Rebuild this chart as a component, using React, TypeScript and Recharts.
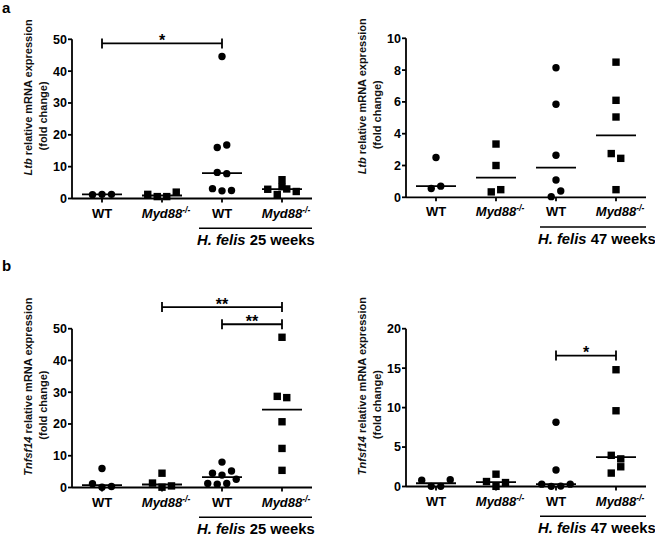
import React from 'react'
import { ScatterChart, Scatter, XAxis, YAxis, ReferenceLine } from 'recharts'

const categories = ['WT', 'Myd88', 'WT', 'Myd88']

// Ltb, H. felis 25 weeks (uninfected WT, uninfected Myd88-/-, infected WT, infected Myd88-/-)
const ltb25WT = [1.2, 1.3, 1.3]
const ltb25Myd = [1.3, 0.6, 0.6, 2.0]
const ltb25HfWT = [44.6, 16.0, 16.8, 8.2, 7.8, 3.1, 2.4, 2.5]
const ltb25HfMyd = [5.9, 3.7, 2.9, 1.25, 3.0, 2.2]

// Ltb, H. felis 47 weeks
const ltb47WT = [2.5, 0.55, 0.7]
const ltb47Myd = [3.35, 2.0, 0.34, 0.48]
const ltb47HfWT = [8.15, 5.85, 2.64, 1.09, 0.04, 0.4]
const ltb47HfMyd = [8.5, 6.1, 5.05, 2.75, 2.45, 0.48]

// Tnfsf14, H. felis 25 weeks
const tnf25WT = [6.0, 1.2, 0.1, 0.3]
const tnf25Myd = [4.5, 1.4, 0.1, 0.5]
const tnf25HfWT = [8.0, 4.5, 3.9, 5.2, 1.25, 1.05, 1.25, 2.6]
const tnf25HfMyd = [47.3, 28.7, 28.3, 20.7, 12.3, 5.4]

// Tnfsf14, H. felis 47 weeks
const tnf47WT = [0.8, 0.02, 0.02, 0.85]
const tnf47Myd = [0.63, 1.56, 0.02, 0.5]
const tnf47HfWT = [8.15, 2.1, 0.3, 0.02, 0.05, 0.3]
const tnf47HfMyd = [14.8, 9.6, 3.95, 3.5, 1.7, 2.5]

const ticks50 = [0, 10, 20, 30, 40, 50]
const ticks10 = [0, 2, 4, 6, 8, 10]
const ticks20 = [0, 5, 10, 15, 20]

const FONT = '"Liberation Sans", Arial, Helvetica, sans-serif'
const BAND = 60 // px per category
const STEP = 9.5 // horizontal spacing of overlapping dots
const CLUSTER_PX = 6.8
const Y_AXIS_W = 60
const X_AXIS_H = 30
const axisStyle = { stroke: '#000', strokeWidth: 1.8 }

// prism-style column scatter: points that sit close together get spread side by side
function spreadOffsets(values: number[], pxPerUnit: number): number[] {
  const order = values.map((_, i) => i).sort((a, b) => values[a] - values[b])
  const offsets = new Array(values.length).fill(0)
  let cluster: number[] = []
  const flush = () => {
    const members = [...cluster].sort((a, b) => a - b)
    members.forEach((idx, k) => {
      offsets[idx] = (k - (members.length - 1) / 2) * STEP
    })
  }
  order.forEach((idx) => {
    if (cluster.length && (values[idx] - values[cluster[0]]) * pxPerUnit > CLUSTER_PX) {
      flush()
      cluster = []
    }
    cluster.push(idx)
  })
  if (cluster.length) flush()
  return offsets
}

function median(values: number[]) {
  const s = [...values].sort((a, b) => a - b)
  const m = Math.floor(s.length / 2)
  return s.length % 2 ? s[m] : (s[m - 1] + s[m]) / 2
}

const Dot = ({ cx, cy }: any) => <circle cx={cx} cy={cy} r={3.7} fill="#000" />
const Square = ({ cx, cy }: any) => <rect x={cx - 3.7} y={cy - 3.7} width={7.4} height={7.4} fill="#000" />
const MedianBar = ({ cx, cy }: any) => (
  <line x1={cx - 20} x2={cx + 20} y1={cy} y2={cy} stroke="#000" strokeWidth={1.8} />
)

const SigBar = ({ x1, y1, x2, text }: any) => (
  <g>
    <line x1={x1} x2={x2} y1={y1} y2={y1} stroke="#000" strokeWidth={1.8} />
    <line x1={x1} x2={x1} y1={y1 - 5} y2={y1 + 5} stroke="#000" strokeWidth={1.8} />
    <line x1={x2} x2={x2} y1={y1 - 5} y2={y1 + 5} stroke="#000" strokeWidth={1.8} />
    <text x={(x1 + x2) / 2} y={y1 + 2.5} textAnchor="middle" fontSize={16} fontWeight="bold" fill="#000" fontFamily={FONT}>
      {text}
    </text>
  </g>
)

function CategoryTick({ x, y, payload, weeks, groupDx }: any) {
  const i = payload.value
  const baseY = y + 13
  const font = { fontFamily: FONT, fontSize: 13, fontWeight: 'bold' as const, fill: '#000' }
  return (
    <g>
      {categories[i] === 'WT' ? (
        <text x={x} y={baseY} textAnchor="middle" {...font}>WT</text>
      ) : (
        <text x={x - 20.2} y={baseY} {...font} fontStyle="italic">
          Myd88<tspan fontSize={8.5} dy={-5}>-/-</tspan>
        </text>
      )}
      {i === 2 && (
        <g>
          <line x1={x + groupDx} x2={x + 90} y1={y + 23.7} y2={y + 23.7} stroke="#000" strokeWidth={1.5} />
          <text x={x + groupDx - 2} y={y + 40.5} {...font} fontSize={14.8}>
            <tspan fontStyle="italic">H. felis</tspan> {weeks} weeks
          </text>
        </g>
      )}
    </g>
  )
}

const yLabel = (gene: string) => (props: any) => {
  const vb = props.viewBox || {}
  const axisX = vb.x + vb.width
  const cy = vb.y + vb.height / 2
  const font = {
    fontFamily: FONT,
    fontSize: 11,
    fontWeight: 'bold' as const,
    fill: '#111',
    textAnchor: 'middle' as const,
    dominantBaseline: 'central' as const,
  }
  return (
    <g>
      <text transform={`translate(${axisX - 44},${cy - 21.5}) rotate(-90)`} {...font}>
        <tspan fontStyle="italic">{gene}</tspan> relative mRNA expression
      </text>
      <text transform={`translate(${axisX - 29},${cy - 3}) rotate(-90)`} {...font}>
        (fold change)
      </text>
    </g>
  )
}

interface Sig { from: number; to: number; y: number; label: string }
interface PanelProps {
  left: number
  top: number
  width: number
  height: number
  plot: { l: number; r: number; t: number; b: number }
  yMax: number
  yTicks: number[]
  gene: string
  weeks: string
  groupDx: number
  groups: number[][]
  sigs: Sig[]
}

function Panel(p: PanelProps) {
  const ppu = (p.plot.b - p.plot.t) / p.yMax
  const circles: { x: number; y: number }[] = []
  const squares: { x: number; y: number }[] = []
  p.groups.forEach((vals, i) => {
    const off = spreadOffsets(vals, ppu)
    const pts = vals.map((v, k) => ({ x: i + off[k] / BAND, y: v }))
    ;(i % 2 === 0 ? circles : squares).push(...pts)
  })
  const medians = p.groups.map((vals, i) => ({ x: i, y: median(vals) }))
  const margin = {
    left: p.plot.l - p.left - Y_AXIS_W,
    right: p.left + p.width - p.plot.r,
    top: p.plot.t - p.top,
    bottom: p.top + p.height - p.plot.b - X_AXIS_H,
  }
  return (
    <div style={{ position: 'absolute', left: p.left, top: p.top }}>
      <ScatterChart width={p.width} height={p.height} margin={margin}>
        <XAxis
          type="number"
          dataKey="x"
          domain={[-0.5, 3.5]}
          ticks={[0, 1, 2, 3]}
          interval={0}
          height={X_AXIS_H}
          tickSize={4}
          tickMargin={2}
          axisLine={axisStyle}
          tickLine={axisStyle}
          tick={<CategoryTick weeks={p.weeks} groupDx={p.groupDx} />}
        />
        <YAxis
          type="number"
          dataKey="y"
          domain={[0, p.yMax]}
          ticks={p.yTicks}
          interval={0}
          width={Y_AXIS_W}
          tickSize={4}
          tickMargin={1}
          axisLine={axisStyle}
          tickLine={axisStyle}
          tick={{ fill: '#000', fontSize: 12.5, fontWeight: 'bold', fontFamily: FONT }}
          label={yLabel(p.gene)}
        />
        {p.sigs.map((s, k) => (
          <ReferenceLine
            key={k}
            segment={[{ x: s.from, y: s.y }, { x: s.to, y: s.y }]}
            ifOverflow="visible"
            shape={(props: any) => <SigBar {...props} text={s.label} />}
          />
        ))}
        <Scatter data={medians} shape={MedianBar} isAnimationActive={false} />
        <Scatter data={circles} shape={Dot} isAnimationActive={false} />
        <Scatter data={squares} shape={Square} isAnimationActive={false} />
      </ScatterChart>
    </div>
  )
}

export default function App() {
  return (
    <div style={{ position: 'relative', width: 655, height: 537, overflow: 'hidden', background: '#fff', fontFamily: FONT }}>
      <style>{'body{margin:0}'}</style>
      <Panel
        left={0} top={0} width={330} height={268}
        plot={{ l: 72, r: 312, t: 39.3, b: 198.5 }}
        yMax={50} yTicks={ticks50} gene="Ltb" weeks="25" groupDx={-23}
        groups={[ltb25WT, ltb25Myd, ltb25HfWT, ltb25HfMyd]}
        sigs={[{ from: 0, to: 2, y: 48.7, label: '*' }]}
      />
      <Panel
        left={330} top={0} width={325} height={268}
        plot={{ l: 406, r: 646, t: 38.3, b: 197.3 }}
        yMax={10} yTicks={ticks10} gene="Ltb" weeks="47" groupDx={-16}
        groups={[ltb47WT, ltb47Myd, ltb47HfWT, ltb47HfMyd]}
        sigs={[]}
      />
      <Panel
        left={0} top={268} width={330} height={269}
        plot={{ l: 72, r: 312, t: 328.7, b: 487.5 }}
        yMax={50} yTicks={ticks50} gene="Tnfsf14" weeks="25" groupDx={-23}
        groups={[tnf25WT, tnf25Myd, tnf25HfWT, tnf25HfMyd]}
        sigs={[
          { from: 1, to: 3, y: 56.8, label: '**' },
          { from: 2, to: 3, y: 51.4, label: '**' },
        ]}
      />
      <Panel
        left={330} top={268} width={325} height={269}
        plot={{ l: 406, r: 646, t: 328.7, b: 486.5 }}
        yMax={20} yTicks={ticks20} gene="Tnfsf14" weeks="47" groupDx={-16}
        groups={[tnf47WT, tnf47Myd, tnf47HfWT, tnf47HfMyd]}
        sigs={[{ from: 2, to: 3, y: 16.6, label: '*' }]}
      />
      <svg width={655} height={537} style={{ position: 'absolute', left: 0, top: 0, pointerEvents: 'none' }}>
        <text x={2} y={13} fontSize={15} fontWeight="bold" fontFamily={FONT}>a</text>
        <text x={2} y={271} fontSize={15} fontWeight="bold" fontFamily={FONT}>b</text>
      </svg>
    </div>
  )
}
